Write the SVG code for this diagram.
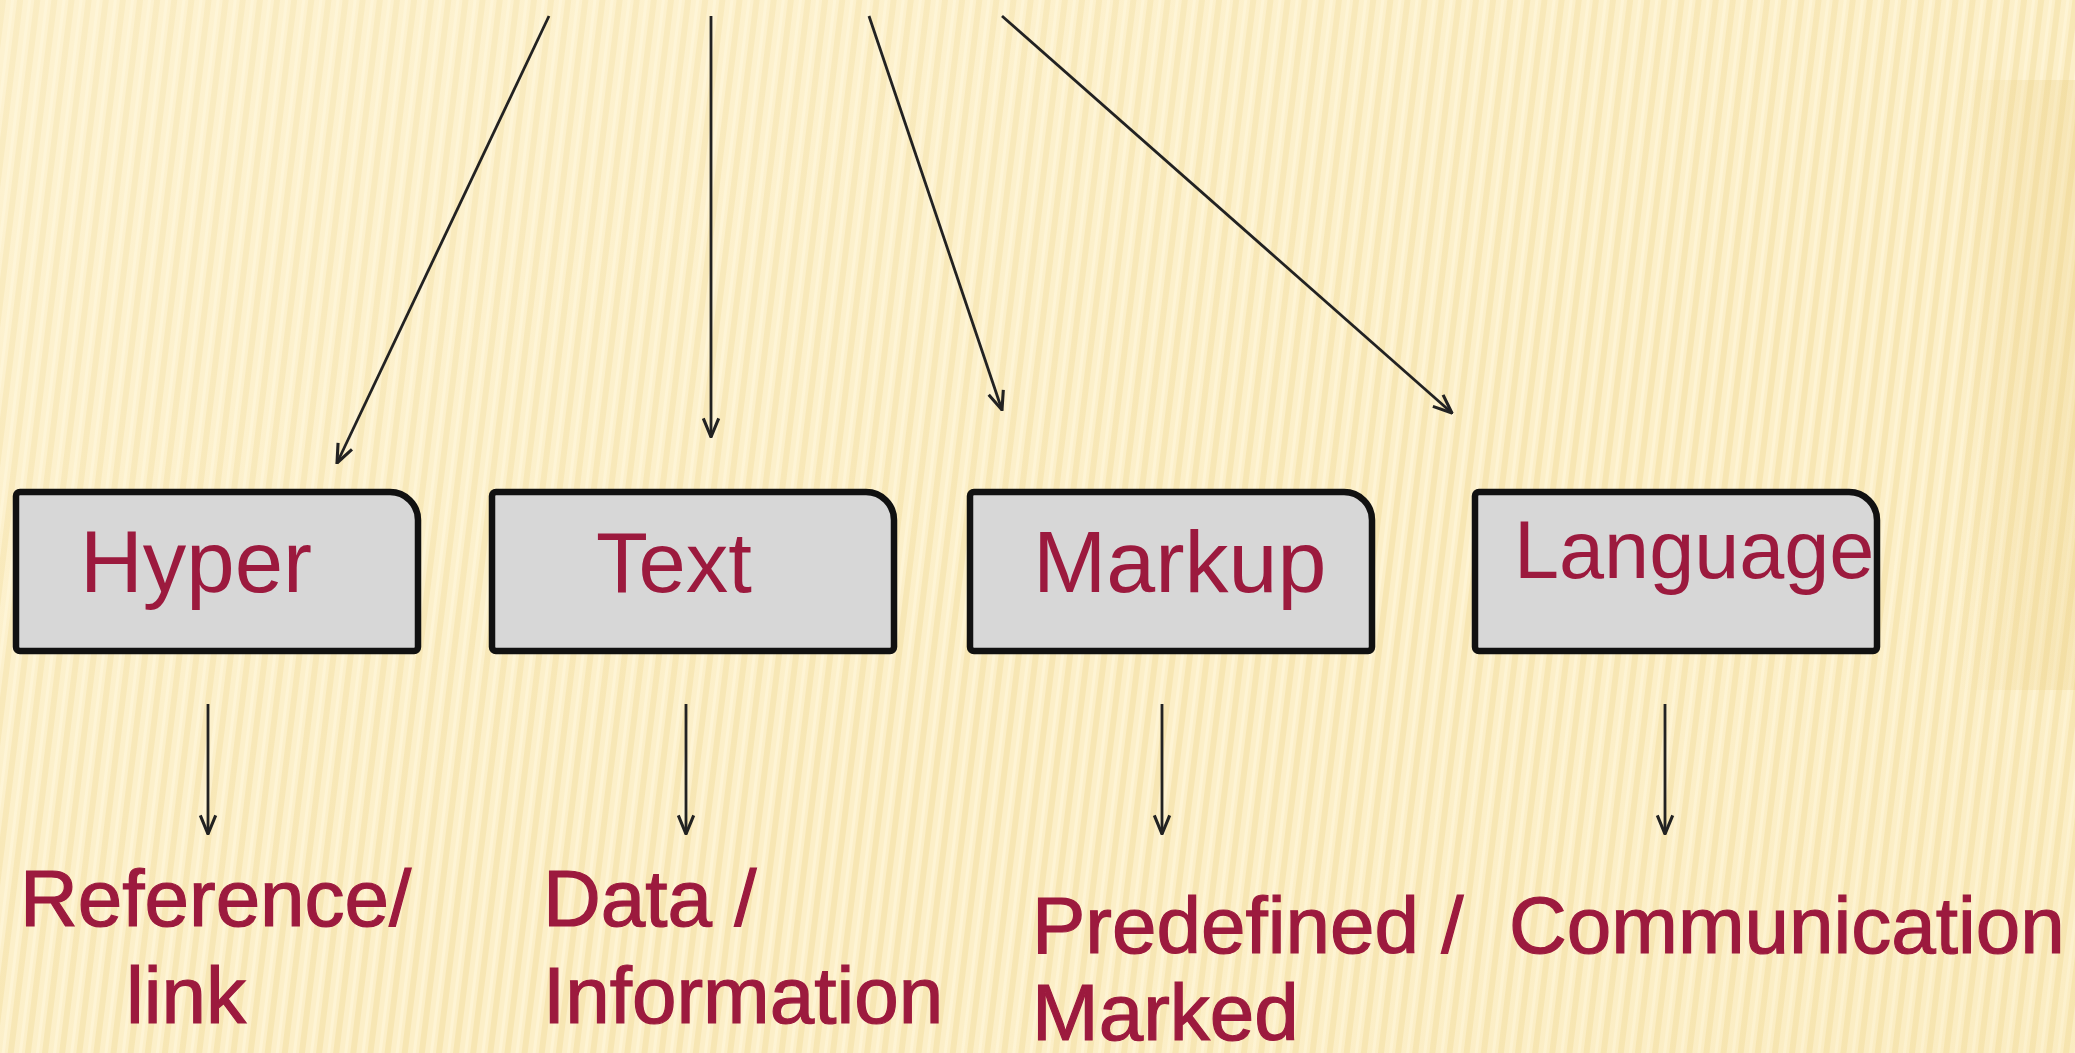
<svg xmlns="http://www.w3.org/2000/svg" width="2075" height="1053" viewBox="0 0 2075 1053">
  <style>
    .box { fill: #d7d7d7; stroke: #111; stroke-width: 6.5; }
    .lbl { font-family: "Liberation Sans", Arial, sans-serif; fill: #9c1a3e; }
    .sub { font-family: "Liberation Sans", Arial, sans-serif; fill: #9c1a3e; stroke: #9c1a3e; stroke-width: 1.2; font-size: 80px; }
    .conn { stroke: #222; stroke-width: 2.8; fill: none; marker-end: url(#arr); }
  </style>
  <defs>
    <pattern id="stripes" width="17" height="17" patternUnits="userSpaceOnUse" patternTransform="rotate(7)">
      <rect width="17" height="17" fill="#fcefc8"/>
      <rect x="0" width="6" height="17" fill="#f2dda2" opacity="0.55"/>
      <rect x="11" width="3" height="17" fill="#fff6dc" opacity="0.6"/>
    </pattern>
    <linearGradient id="glow" x1="0" y1="0" x2="1" y2="1">
      <stop offset="0" stop-color="#fff8e0" stop-opacity="0.35"/>
      <stop offset="0.6" stop-color="#fff8e0" stop-opacity="0"/>
      <stop offset="1" stop-color="#f0d890" stop-opacity="0.12"/>
    </linearGradient>
    <linearGradient id="rightPatch" x1="0" y1="0" x2="1" y2="0">
      <stop offset="0" stop-color="#e8c878" stop-opacity="0"/>
      <stop offset="0.5" stop-color="#e8c878" stop-opacity="0.18"/>
      <stop offset="1" stop-color="#e8c878" stop-opacity="0.25"/>
    </linearGradient>
    <marker id="arr" viewBox="0 0 20 20" refX="19" refY="10" markerWidth="22" markerHeight="22" markerUnits="userSpaceOnUse" orient="auto">
      <path d="M2,3 L19,10 L2,17" fill="none" stroke="#222" stroke-width="2.8"/>
    </marker>
    <path id="boxShape" d="M4,0 H374 A28 28 0 0 1 402 28 V155 A4 4 0 0 1 398 159 H4 A4 4 0 0 1 0 155 V4 A4 4 0 0 1 4 0 Z"/>
  </defs>

  <rect width="2075" height="1053" fill="url(#stripes)"/>
  <rect width="2075" height="1053" fill="url(#glow)"/>
  <rect x="1960" y="80" width="115" height="610" fill="url(#rightPatch)"/>

  <g id="connectors">
    <line class="conn" x1="549" y1="16" x2="337" y2="463"/>
    <line class="conn" x1="711" y1="16" x2="711" y2="437"/>
    <line class="conn" x1="869" y1="16" x2="1002" y2="410"/>
    <line class="conn" x1="1002" y1="16" x2="1452" y2="413"/>
    <line class="conn" x1="208" y1="704" x2="208" y2="834"/>
    <line class="conn" x1="686" y1="704" x2="686" y2="834"/>
    <line class="conn" x1="1162" y1="704" x2="1162" y2="834"/>
    <line class="conn" x1="1665" y1="704" x2="1665" y2="834"/>
  </g>

  <g id="node-hyper">
    <use href="#boxShape" class="box" transform="translate(16,492)"/>
    <text class="lbl" x="80" y="592" font-size="87">Hyper</text>
  </g>
  <g id="node-text">
    <use href="#boxShape" class="box" transform="translate(492,492)"/>
    <text class="lbl" x="596" y="592" font-size="85">Text</text>
  </g>
  <g id="node-markup">
    <use href="#boxShape" class="box" transform="translate(970,492)"/>
    <text class="lbl" x="1033" y="592" font-size="88">Markup</text>
  </g>
  <g id="node-language">
    <use href="#boxShape" class="box" transform="translate(1475,492)"/>
    <text class="lbl" x="1514" y="578" font-size="81">Language</text>
  </g>

  <g id="label-reference">
    <text class="sub" x="20" y="926">Reference/</text>
    <text class="sub" x="126" y="1023">link</text>
  </g>
  <g id="label-data">
    <text class="sub" x="543" y="926">Data /</text>
    <text class="sub" x="543" y="1023">Information</text>
  </g>
  <g id="label-predefined">
    <text class="sub" x="1032" y="953">Predefined /</text>
    <text class="sub" x="1032" y="1040">Marked</text>
  </g>
  <g id="label-communication">
    <text class="sub" x="1509" y="953">Communication</text>
  </g>
</svg>
